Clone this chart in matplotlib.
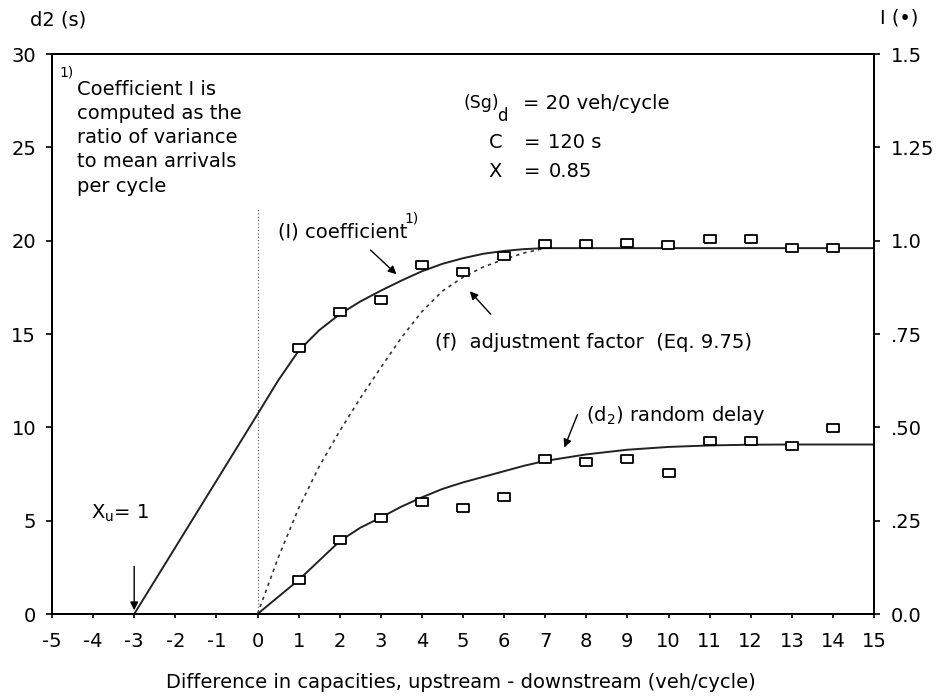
import numpy as np
import matplotlib
matplotlib.use("Agg")
import matplotlib.pyplot as plt

plt.rcParams['font.family'] = ['DejaVu Sans']
plt.rcParams['mathtext.fontset'] = 'dejavusans'
plt.rcParams['axes.unicode_minus'] = False

# observed points (squares)
x_obs = [1, 2, 3, 4, 5, 6, 7, 8, 9, 10, 11, 12, 13, 14]
d2_obs = [1.82, 3.96, 5.14, 6.0, 5.69, 6.27, 8.3, 8.15, 8.3, 7.55, 9.28, 9.25, 9.0, 9.98]
I_obs = [0.712, 0.81, 0.84, 0.935, 0.916, 0.96, 0.99, 0.99, 0.993, 0.988, 1.004, 1.004, 0.98, 0.98]

# (I) coefficient curve
x_I = [-3, 0, 0.5, 1, 1.5, 2, 2.5, 3, 3.5, 4, 4.5, 5, 5.5, 6, 6.5, 7, 15]
I_line = [0, 0.535, 0.625, 0.705, 0.76, 0.803, 0.837, 0.866, 0.893, 0.918, 0.938,
          0.953, 0.965, 0.9725, 0.9775, 0.98, 0.98]

# (f) adjustment factor curve
x_f = [0, 0.5, 1, 1.5, 2, 2.5, 3, 3.5, 4, 4.5, 5, 5.5, 6, 6.5, 7]
f_line = [0, 0.15, 0.283, 0.395, 0.49, 0.578, 0.66, 0.74, 0.81, 0.865, 0.902, 0.93,
          0.95, 0.9675, 0.98]

# (d2) random delay curve
x_d2 = [0, 1, 2, 2.5, 3, 3.5, 4, 4.5, 5, 5.5, 6, 6.5, 7, 8, 9, 10, 11, 12, 13, 15]
d2_line = [0, 1.82, 3.9, 4.62, 5.17, 5.75, 6.25, 6.7, 7.05, 7.35, 7.65, 7.95, 8.2,
           8.55, 8.8, 8.95, 9.03, 9.07, 9.08, 9.08]

x_ticks = list(range(-5, 16))
left_ticks = [0, 5, 10, 15, 20, 25, 30]
right_ticks = [0, 0.25, 0.5, 0.75, 1.0, 1.25, 1.5]
right_labels = ['0.0', '.25', '.50', '.75', '1.0', '1.25', '1.5']

FS = 14
W, H = 938, 698
fig = plt.figure(figsize=(W / 100, H / 100), dpi=100)
ax = fig.add_axes([52 / W, 1 - 614 / H, (874 - 52) / W, (614 - 54) / H])
ax2 = ax.twinx()

rect = [(-1.4, -1), (1.4, -1), (1.4, 1), (-1.4, 1), (-1.4, -1)]
mk = dict(marker=rect, markersize=9, markerfacecolor='white',
          markeredgecolor='black', markeredgewidth=1.3, linestyle='none')

ax.plot(x_d2, d2_line, color='#222222', lw=1.4)
ax.plot(x_obs, d2_obs, **mk)
ax.plot([0, 0], [0, 21.7], color='#555555', lw=0.8, linestyle=(0, (1, 2)))

ax2.plot(x_I, I_line, color='#222222', lw=1.4)
ax2.plot(x_f, f_line, color='#333333', lw=1.2, linestyle=(0, (2, 2.5)))
ax2.plot(x_obs, I_obs, **mk)

ax.set_xlim(-5, 15)
ax.set_ylim(0, 30)
ax2.set_ylim(0, 1.5)
ax.set_xticks(x_ticks)
ax.set_xticklabels([str(t) for t in x_ticks])
ax.set_yticks(left_ticks)
ax2.set_yticks(right_ticks)
ax2.set_yticklabels(right_labels)

for a in (ax, ax2):
    for s in a.spines.values():
        s.set_linewidth(1.4)
    a.tick_params(labelsize=FS, length=4, width=1.2, direction='out')
ax.tick_params(axis='y', pad=7.5)
ax2.tick_params(axis='y', pad=8)
ax.tick_params(axis='x', length=3, pad=10)

fig.text(461 / W, 1 - 683 / H,
         'Difference in capacities, upstream - downstream (veh/cycle)',
         fontsize=FS, ha='center', va='center')
fig.text(30 / W, 1 - 20 / H, 'd2 (s)', fontsize=FS, va='center', ha='left')
fig.text(880 / W, 1 - 18 / H, 'I (\u2022)', fontsize=FS, va='center', ha='left')

# footnote
ax.text(-4.82, 29.03, '1)', fontsize=10, va='center', ha='left')
ax.text(-4.4, 28.6, 'Coefficient I is\ncomputed as the\nratio of variance\n'
        'to mean arrivals\nper cycle', fontsize=FS, va='top', ha='left',
        linespacing=1.34)

# parameters
ax.text(5.01, 27.37, '(Sg)', fontsize=12.5, va='center', ha='left')
ax.text(5.84, 26.7, 'd', fontsize=12, va='center', ha='left')
ax.text(6.47, 27.37, '= 20 veh/cycle', fontsize=FS, va='center', ha='left')
ax.text(5.62, 25.28, 'C', fontsize=FS, va='center', ha='left')
ax.text(6.47, 25.28, '=', fontsize=FS, va='center', ha='left')
ax.text(7.08, 25.28, '120 s', fontsize=FS, va='center', ha='left')
ax.text(5.62, 23.73, 'X', fontsize=FS, va='center', ha='left')
ax.text(6.47, 23.73, '=', fontsize=FS, va='center', ha='left')
ax.text(7.08, 23.73, '0.85', fontsize=FS, va='center', ha='left')

# curve labels
ax.text(0.49, 20.46, '(I) coefficient', fontsize=FS, va='center', ha='left')
ax.text(3.58, 21.2, '1)', fontsize=10, va='center', ha='left')
ax.annotate('', xy=(3.43, 18.1), xytext=(2.7, 19.6),
            arrowprops=dict(arrowstyle='-|>', color='black', lw=1.0,
                            mutation_scale=12))

ax.text(4.31, 14.52, '(f)  adjustment factor  (Eq. 9.75)', fontsize=FS,
        va='center', ha='left')
ax.annotate('', xy=(5.12, 17.4), xytext=(5.72, 15.95),
            arrowprops=dict(arrowstyle='-|>', color='black', lw=1.0,
                            mutation_scale=12))

ax.text(8.0, 10.66, r'(d$_2$) random delay', fontsize=FS, va='center', ha='left')
ax.annotate('', xy=(7.44, 8.78), xytext=(7.81, 10.82),
            arrowprops=dict(arrowstyle='-|>', color='black', lw=1.0,
                            mutation_scale=12))

ax.text(-4.04, 5.41, r'X$_\mathrm{u}$= 1', fontsize=FS, va='center', ha='left')
ax.annotate('', xy=(-3, 0.05), xytext=(-3, 2.7),
            arrowprops=dict(arrowstyle='-|>', color='black', lw=1.0,
                            mutation_scale=12))

fig.savefig('out.png', dpi=100)
